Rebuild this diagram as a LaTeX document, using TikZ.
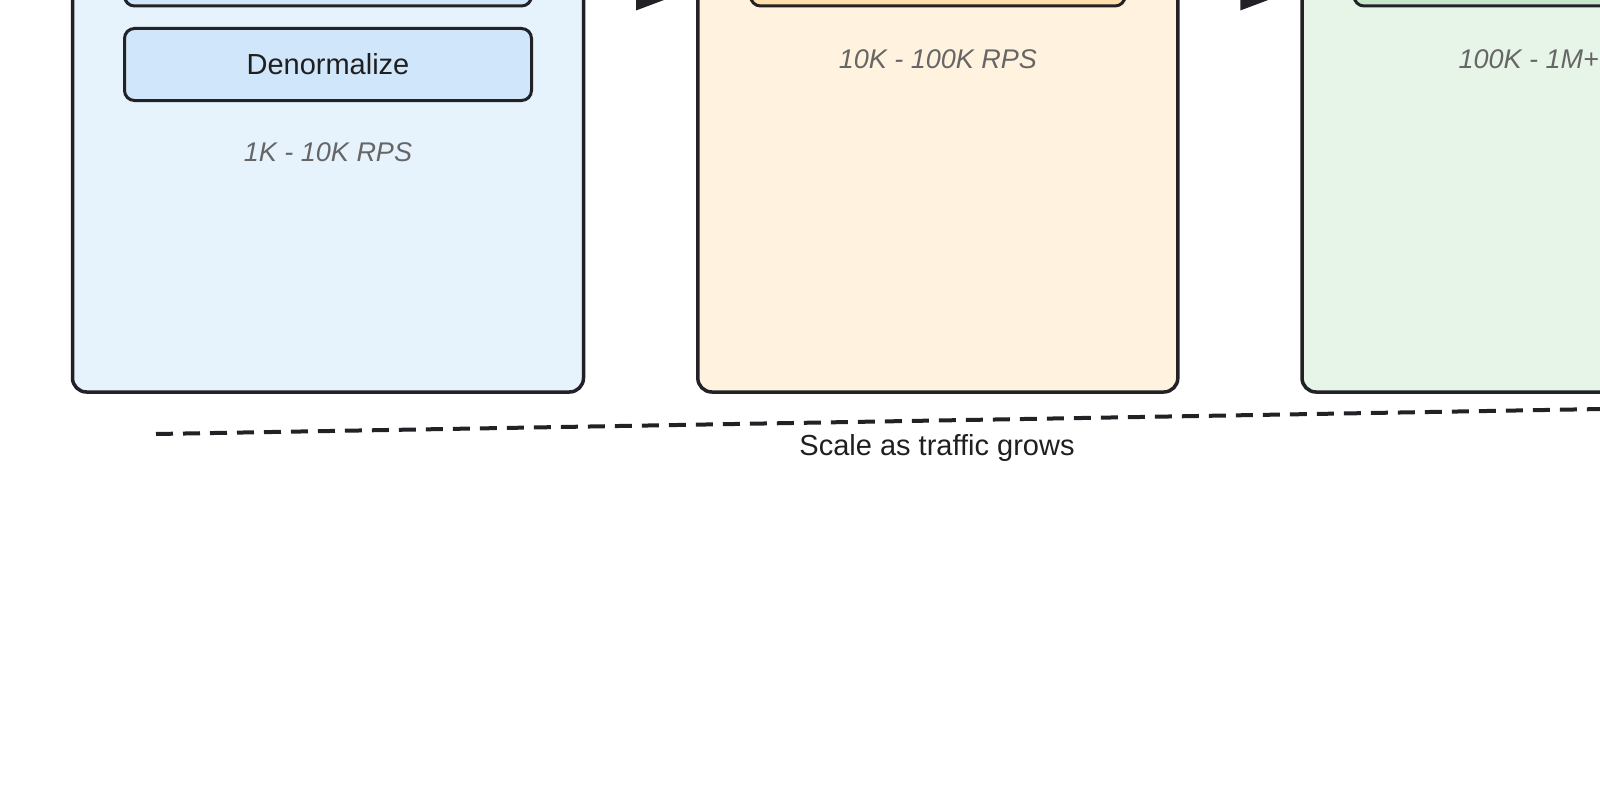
\documentclass[tikz,border=0pt]{standalone}
\usepackage{fontspec}
\setmainfont{Liberation Sans}
\usetikzlibrary{arrows.meta, positioning}
\definecolor{edgegray}{RGB}{34, 34, 38}
\definecolor{tierblue}{RGB}{230, 242, 252}
\definecolor{taskblue}{RGB}{208, 230, 250}
\definecolor{tierorange}{RGB}{255, 242, 222}
\definecolor{taskorange}{RGB}{255, 222, 170}
\definecolor{tiergreen}{RGB}{231, 245, 232}
\definecolor{taskgreen}{RGB}{200, 230, 201}
\definecolor{ratetext}{RGB}{102, 102, 102}
\tikzset{
  tier/.style={draw=edgegray, line width=3.5pt, rounded corners=14pt, minimum height=808pt, inner sep=0pt},
  task/.style={draw=edgegray, line width=3pt, rounded corners=10pt, minimum height=72pt, inner sep=0pt, text=black!88, font=\fontsize{29}{34}\selectfont},
  rate/.style={text=ratetext, font=\fontsize{27}{32}\selectfont\itshape},
  flow/.style={draw=edgegray, line width=3.5pt, -{Triangle[length=60pt, width=44pt]}},
  growth/.style={draw=edgegray, line width=4pt, dash pattern=on 17pt off 10pt},
}

\begin{document}
\begin{tikzpicture}[x=1pt, y=-1pt]
  \useasboundingbox (0,0) rectangle (1600,800);
  \clip (0,0) rectangle (1600,800);

  \node[tier, fill=tierblue, minimum width=511pt] (tier1) at (328,-12) {};
  \node[tier, fill=tierorange, minimum width=480pt] (tier2) at (937.8,-12) {};
  \node[tier, fill=tiergreen, minimum width=511pt] (tier3) at (1557.5,-12) {};

  \node[task, fill=taskblue, minimum width=407pt] (cache) at (328,-30) {};
  \node[task, fill=taskblue, minimum width=407pt, below=19.5pt of cache] (denorm) {Denormalize};
  \node[task, fill=taskorange, minimum width=374.5pt] (shard) at (937.8,-30) {};
  \node[task, fill=taskgreen, minimum width=407pt] (global) at (1557.5,-30) {};

  \node[rate] (rate1) at (328,152) {1K - 10K RPS};
  \node[rate] (rate2) at (937.8,59) {10K - 100K RPS};
  \node[rate, anchor=west] (rate3) at (1455,59) {100K - 1M+};

  \draw[flow] (tier1) -- (tier2);
  \draw[flow] (tier2) -- (tier3);

  \coordinate (growstart) at (156,434);
  \coordinate (growend) at (1718,407);
  \draw[growth] (growstart) -- node[midway, yshift=-27pt, font=\fontsize{29}{34}\selectfont, text=black!88] (growlabel) {Scale as traffic grows} (growend);
\end{tikzpicture}
\end{document}
